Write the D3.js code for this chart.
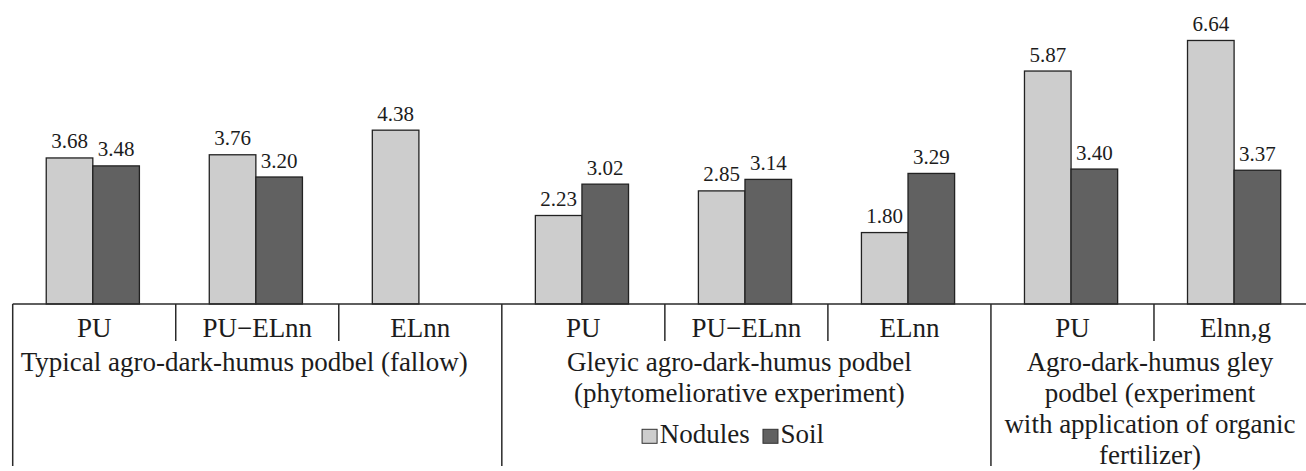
<!DOCTYPE html>
<html>
<head>
<meta charset="utf-8">
<script src="https://cdn.jsdelivr.net/npm/d3@7"></script>
<style>
  html, body { margin: 0; padding: 0; background: #fff; }
  svg { display: block; }
</style>
</head>
<body>
<svg id="chart" width="1306" height="471"></svg>
<script>
// ---- data ----
const categories = ["PU", "PU\u2212ELnn", "ELnn", "PU", "PU\u2212ELnn", "ELnn", "PU", "Elnn,g"];
const nodules = [3.68, 3.76, 4.38, 2.23, 2.85, 1.80, 5.87, 6.64];
const soil    = [3.48, 3.20, null, 3.02, 3.14, 3.29, 3.40, 3.37];
const seriesNames = ["Nodules", "Soil"];
const groupSizes = [3, 3, 2];
const groupLabels = [
  ["Typical agro-dark-humus podbel (fallow)"],
  ["Gleyic agro-dark-humus podbel", "(phytomeliorative experiment)"],
  ["Agro-dark-humus gley", "podbel (experiment", "with application of organic", "fertilizer)"]
];
const valueFormat = d3.format(".2f");

// ---- layout / style ----
const W = 1306, H = 471;
const left = 12.7, step = 163.04, baseY = 304;
const FONT = "'Liberation Serif', 'Times New Roman', Times, 'DejaVu Serif', serif";
const colors = { Nodules: "#cdcdcd", Soil: "#616161" };
const groupLabelDx = [-13, -7, -4];
const lineH = 31.2;

const svg = d3.select("#chart")
  .attr("font-family", FONT)
  .style("font-family", FONT);

const idx = categories.map((_, i) => i);
const x = d3.scaleBand().domain(idx).range([left, left + step * categories.length]).padding(0);
const xi = d3.scaleBand().domain(seriesNames).range([0, x.bandwidth()]).paddingInner(0).paddingOuter(0.75);
const y = d3.scaleLinear().domain([0, 7.66]).range([baseY, 0]);

const rows = idx.map(i => ({ i, values: [
  { s: "Nodules", v: nodules[i] }, { s: "Soil", v: soil[i] }
].filter(d => d.v != null) }));

function txt(sel) {
  return sel.attr("font-family", FONT).style("font-family", FONT).attr("fill", "#1c1c1c");
}

// bars
const gBars = svg.append("g").attr("transform", "translate(-1.4,0)");
const grp = gBars.selectAll("g.cat").data(rows).join("g")
  .attr("class", "cat")
  .attr("transform", d => `translate(${x(d.i)},0)`);

grp.selectAll("rect").data(d => d.values).join("rect")
  .attr("x", d => xi(d.s))
  .attr("y", d => y(d.v))
  .attr("width", xi.bandwidth())
  .attr("height", d => y(0) - y(d.v))
  .attr("fill", d => colors[d.s])
  .attr("stroke", "#222")
  .attr("stroke-width", 1.3);

grp.selectAll("text").data(d => d.values).join("text")
  .call(txt)
  .attr("x", d => xi(d.s) + xi.bandwidth() / 2)
  .attr("y", d => y(d.v) - 9.5)
  .attr("text-anchor", "middle")
  .attr("font-size", 21)
  .text(d => valueFormat(d.v));

// axis line
const axis = svg.append("g").attr("transform", `translate(0,${baseY})`)
  .call(d3.axisBottom(x).tickSize(0).tickFormat(() => ""));
axis.select(".domain").remove();
svg.append("line")
  .attr("x1", left).attr("x2", W)
  .attr("y1", baseY).attr("y2", baseY)
  .attr("stroke", "#2a2a2a").attr("stroke-width", 1.5);

// category labels
svg.append("g").selectAll("text").data(idx).join("text")
  .call(txt)
  .attr("x", i => x(i) + x.bandwidth() / 2)
  .attr("y", 336.7)
  .attr("text-anchor", "middle")
  .attr("font-size", 27)
  .text(i => categories[i]);

// dividers
const groupStarts = [];
let acc = 0;
groupSizes.forEach(n => { groupStarts.push(acc); acc += n; });
const lines = svg.append("g").attr("stroke", "#2a2a2a").attr("stroke-width", 1.5);
idx.forEach(i => {
  const isGroupStart = groupStarts.includes(i);
  lines.append("line")
    .attr("x1", x(i)).attr("x2", x(i))
    .attr("y1", baseY).attr("y2", isGroupStart ? 466 : 341);
});

// group labels
groupLabels.forEach((lbls, g) => {
  const s = groupStarts[g], n = groupSizes[g];
  const x0 = x(s), x1 = x(s + n - 1) + x.bandwidth();
  const cx = (x0 + x1) / 2 + groupLabelDx[g];
  svg.append("g").selectAll("text").data(lbls).join("text")
    .call(txt)
    .attr("x", cx)
    .attr("y", (d, k) => 370.5 + k * lineH)
    .attr("text-anchor", "middle")
    .attr("font-size", 27)
    .text(d => d);
});

// legend (under group 2)
{
  const s = groupStarts[1], n = groupSizes[1];
  const cx = (x(s) + x(s + n - 1) + x.bandwidth()) / 2;
  const lg = svg.append("g").attr("transform", `translate(${cx - 104.3},443.3)`);
  let xpos = 0;
  seriesNames.forEach((name, k) => {
    lg.append("rect")
      .attr("x", xpos).attr("y", -14)
      .attr("width", 15).attr("height", 14)
      .attr("fill", colors[name]).attr("stroke", "#333").attr("stroke-width", 1);
    const t = lg.append("text")
      .call(txt)
      .attr("x", xpos + 17.6).attr("y", 0)
      .attr("font-size", 27)
      .text(name);
    xpos += 17.6 + t.node().getComputedTextLength() + 13.3;
  });
}
</script>
</body>
</html>
